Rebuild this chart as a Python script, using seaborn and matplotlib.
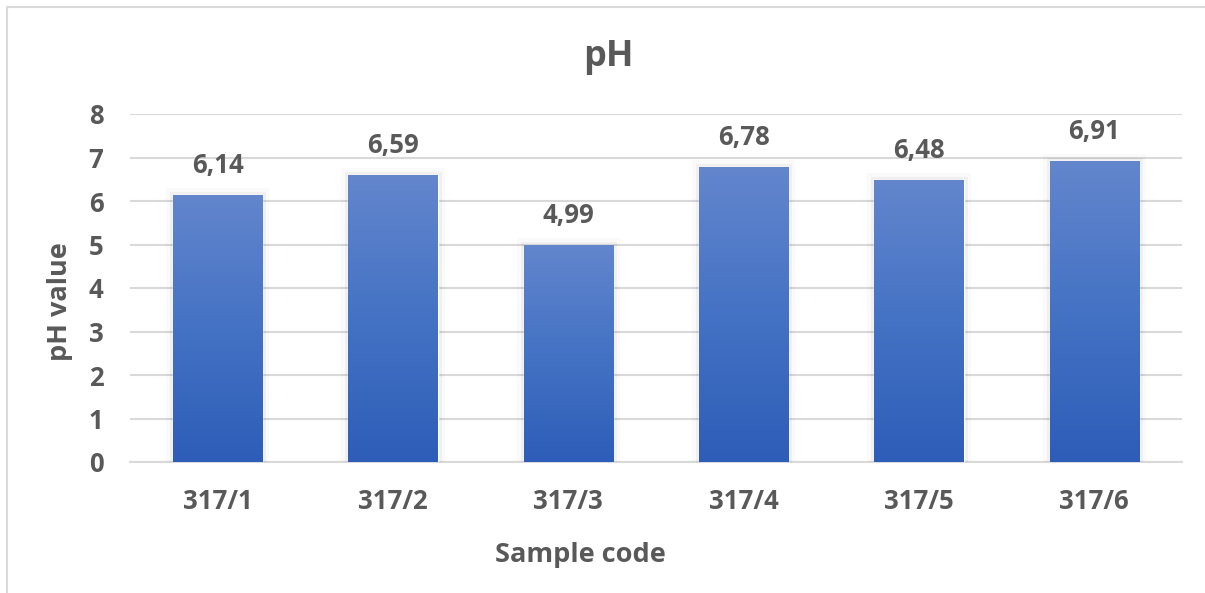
import numpy as np
import pandas as pd
import matplotlib
matplotlib.use("Agg")
import matplotlib.pyplot as plt
import matplotlib.patheffects as pe
from matplotlib.colors import LinearSegmentedColormap
from matplotlib.lines import Line2D
import seaborn as sns

# Data
samples = ["317/1", "317/2", "317/3", "317/4", "317/5", "317/6"]
ph_values = [6.14, 6.59, 4.99, 6.78, 6.48, 6.91]
y_ticks = [0, 1, 2, 3, 4, 5, 6, 7, 8]

TEXT = "#595959"
GRID = "#D9D9D9"
W, H = 1205, 593
FS = 18.5

sns.set_theme(style="white")
plt.rcParams["font.family"] = ["Open Sans", "DejaVu Sans"]
plt.rcParams["font.weight"] = "bold"

fig = plt.figure(figsize=(W / 100, H / 100), dpi=100)
fig.patch.set_facecolor("white")
ax = fig.add_axes([130 / W, 1 - 462 / H, (1182 - 130) / W, (462 - 114) / H])

df = pd.DataFrame({"sample": samples, "ph": ph_values})
sns.barplot(data=df, x="sample", y="ph", ax=ax, color="#4472C4",
            width=0.51, saturation=1, errorbar=None, zorder=3)

# Vertical gradient fill and soft glow on each bar
grad_cmap = LinearSegmentedColormap.from_list("bar_grad", ["#2D5DB8", "#4472C4", "#6386CD"])
gradient = np.linspace(0, 1, 256).reshape(-1, 1)
for patch in ax.patches:
    x0, y0 = patch.get_x(), patch.get_y()
    w, h = patch.get_width(), patch.get_height()
    patch.set_path_effects([
        pe.Stroke(linewidth=10, foreground="black", alpha=0.02),
        pe.Stroke(linewidth=5, foreground="black", alpha=0.04),
        pe.Normal(),
    ])
    im = ax.imshow(gradient, extent=[x0, x0 + w, y0, y0 + h], origin="lower",
                   cmap=grad_cmap, aspect="auto", zorder=3.5, interpolation="bicubic")
    im.set_clip_path(patch)

# Value labels above bars
for i, v in enumerate(ph_values):
    ax.annotate(f"{v:.2f}".replace(".", ","), (i, v), xytext=(0, 16),
                textcoords="offset points", ha="center", va="baseline",
                fontsize=FS, fontweight="bold", color=TEXT)

ax.set_xlim(-0.5, len(samples) - 0.5)
ax.set_ylim(0, 8)
ax.set_yticks(y_ticks)
ax.yaxis.grid(True, color=GRID, linewidth=1.5)
ax.set_axisbelow(True)
for side in ["top", "right", "left"]:
    ax.spines[side].set_visible(False)
ax.spines["bottom"].set_color(GRID)
ax.spines["bottom"].set_linewidth(1.5)
ax.tick_params(axis="both", length=0, labelsize=FS, colors=TEXT)
ax.tick_params(axis="y", pad=19)
ax.tick_params(axis="x", pad=19)
for lab in ax.get_xticklabels() + ax.get_yticklabels():
    lab.set_fontweight("bold")
ax.set_xlabel("")
ax.set_ylabel("")

# Titles
fig.text(608 / W, 1 - 57 / H, "pH", ha="center", va="center",
         fontsize=26, fontweight="bold", color=TEXT)
fig.text(580 / W, 1 - 555 / H, "Sample code", ha="center", va="center",
         fontsize=19.5, fontweight="bold", color=TEXT)
fig.text(60 / W, 1 - 302 / H, "pH value", ha="center", va="center", rotation=90,
         fontsize=19.5, fontweight="bold", color=TEXT)

# Chart frame (top and left edges)
fig.add_artist(Line2D([7 / W, 7 / W], [0, 1 - 7 / H], transform=fig.transFigure,
                      color=GRID, linewidth=1.5))
fig.add_artist(Line2D([7 / W, 1], [1 - 7 / H, 1 - 7 / H], transform=fig.transFigure,
                      color=GRID, linewidth=1.5))

fig.savefig("out.png", dpi=100, facecolor="white")
